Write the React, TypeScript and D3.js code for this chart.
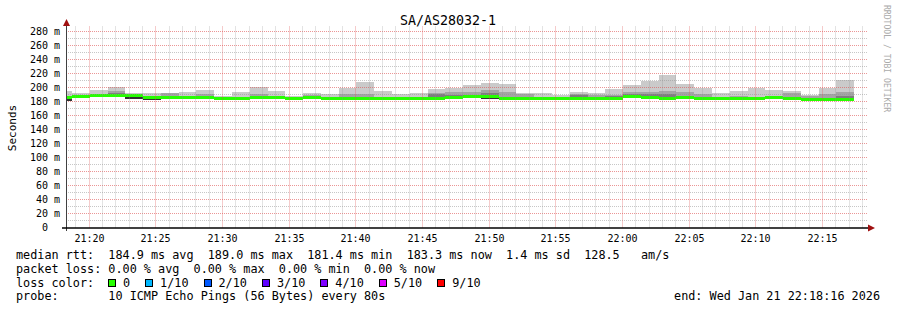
import React from 'react';
import * as d3 from 'd3';

// ---------- data ----------
const title = 'SA/AS28032-1';
const yAxisTitle = 'Seconds';
const startTime = new Date(2026, 0, 21, 21, 18, 16);
const endTime = new Date(2026, 0, 21, 22, 18, 16);
const firstColumnStart = new Date(2026, 0, 21, 21, 17, 23);
const stepSeconds = 80;
const yMax = 287.9;
const yTickStep = 20;
const yMinorStep = 10;
const yTickTop = 280;

// median rtt per 80 s column (ms)
const medianRtt = [
  185.7, 187.1, 188.3, 189.3, 187.9, 185.7, 185.3, 186.1, 186.1, 184.6,
  184.6, 186.1, 186.1, 184.6, 186.1, 185.0, 184.0, 185.0, 185.0, 184.0,
  184.0, 184.6, 186.1, 187.4, 186.9, 184.6, 184.0, 184.0, 184.0, 184.0,
  184.0, 184.0, 186.9, 186.1, 184.0, 185.4, 184.0, 184.0, 184.0, 184.0,
  186.4, 184.0, 182.4, 182.6, 183.1,
];
// highest ping (10th of 10)
const pingTop = [
  195.0, 192.1, 196.4, 201.1, 191.7, 191.7, 192.6, 193.6, 196.4, 187.9,
  193.6, 201.1, 195.0, 187.5, 192.6, 190.7, 199.3, 207.9, 195.0, 190.7,
  192.1, 198.0, 200.0, 203.6, 206.4, 205.0, 192.1, 192.1, 189.7, 193.6,
  192.1, 198.0, 203.6, 209.3, 217.9, 205.0, 200.0, 192.1, 195.0, 199.3,
  196.4, 195.0, 189.7, 199.3, 210.7,
];
// 9th ping
const pingHigh = [
  185.7, 187.1, 188.3, 195.0, 187.9, 185.7, 191.7, 186.1, 190.7, 184.6,
  184.6, 190.7, 186.1, 184.6, 189.7, 185.0, 190.7, 190.7, 185.0, 184.0,
  184.0, 191.5, 193.6, 193.6, 196.4, 193.6, 190.7, 184.0, 184.0, 190.7,
  189.3, 189.3, 193.6, 193.6, 195.0, 193.6, 190.7, 184.0, 187.9, 184.0,
  186.4, 191.7, 187.9, 190.7, 193.6,
];
// 8th ping
const pingMid = [
  185.7, 187.1, 188.3, 191.7, 187.9, 185.7, 185.3, 186.1, 186.1, 184.6,
  184.6, 186.1, 186.1, 184.6, 186.1, 185.0, 184.0, 185.0, 185.0, 184.0,
  184.0, 190.5, 189.0, 187.4, 192.0, 184.6, 184.0, 184.0, 184.0, 189.5,
  184.0, 188.0, 190.7, 190.7, 190.7, 185.4, 184.0, 184.0, 184.0, 184.0,
  186.4, 184.0, 182.4, 182.6, 188.0,
];
// lowest pings
const pingLow = [
  180.7, 187.1, 188.3, 186.4, 183.6, 182.1, 185.3, 186.1, 186.1, 184.6,
  184.6, 186.1, 183.6, 184.6, 186.1, 185.0, 184.0, 185.0, 185.0, 184.0,
  184.0, 184.6, 186.1, 187.4, 183.6, 184.6, 184.0, 184.0, 184.0, 184.0,
  184.0, 184.0, 186.9, 186.1, 184.0, 185.4, 184.0, 184.0, 184.0, 184.0,
  186.4, 184.0, 182.4, 182.6, 183.1,
];

const statsLines = [
  'median rtt:  184.9 ms avg  189.0 ms max  181.4 ms min  183.3 ms now  1.4 ms sd  128.5   am/s',
  'packet loss: 0.00 % avg  0.00 % max  0.00 % min  0.00 % now',
];
const lossLabels = ['0', '1/10', '2/10', '3/10', '4/10', '5/10', '9/10'];
const lossColors = ['#26ff00', '#00b8ff', '#0059ff', '#5e00ff', '#7e00ff', '#dd00ff', '#ff0000'];
const probeLine = 'probe:       10 ICMP Echo Pings (56 Bytes) every 80s';
const endLine = 'end: Wed Jan 21 22:18:16 2026';
const watermark = 'RRDTOOL / TOBI OETIKER';

// ---------- layout ----------
const W = 897;
const H = 310;
const plotLeft = 66;
const plotRight = 866;
const plotBottom = 227.5;
const plotTop = 26;
const FONT = '"DejaVu Sans Mono", monospace';
const LEGEND_FS = 11.8;
const CH = LEGEND_FS * 0.602; // legend char width
const pre = (s: string) => s.replace(/ /g, '\u00a0');

export default function App() {
  const x = d3.scaleTime().domain([startTime, endTime]).range([plotLeft, plotRight]);
  const y = d3.scaleLinear().domain([0, yMax]).range([plotBottom, plotTop]);

  const cols = medianRtt.map((m, i) => {
    const t0 = new Date(firstColumnStart.getTime() + i * stepSeconds * 1000);
    const t1 = new Date(t0.getTime() + stepSeconds * 1000);
    const x0 = Math.round(Math.max(plotLeft, x(t0)));
    const x1 = Math.round(Math.min(plotRight, x(t1)));
    return { x0, x1, m, top: pingTop[i], hi: pingHigh[i], mid: pingMid[i], lo: pingLow[i] };
  });

  const layer = (lo: number, hi: number) => {
    const a = Math.round(y(hi));
    const b = Math.round(y(lo));
    return { yy: Math.min(a, b), h: Math.abs(b - a) };
  };

  const minutes = d3.timeMinute.range(startTime, endTime);
  const hLines = d3.range(yMinorStep, yTickTop + 1, yMinorStep);
  const yTicks = d3.range(0, yTickTop + 1, yTickStep);
  const fmt = d3.timeFormat('%H:%M');

  // loss legend layout
  let lx = 108;
  const lossItems = lossLabels.map((lab, i) => {
    const item = { bx: lx, tx: lx + 15, lab, color: lossColors[i] };
    lx = lx + 15 + lab.length * CH + 15;
    return item;
  });

  return (
    <svg width={W} height={H} style={{ display: 'block', position: 'absolute', left: 0, top: 0, background: '#fff' }}
      fontFamily={FONT}>
      <rect x={0} y={0} width={W} height={H} fill="#ffffff" />
      {/* smoke */}
      <g shapeRendering="crispEdges">
        {cols.map((c, i) => {
          const l1 = layer(c.lo, c.top);
          const l2 = layer(c.lo, c.hi);
          const l3 = layer(c.lo, c.mid);
          const l5 = layer(c.lo, c.m);
          const ym = y(c.m);
          return (
            <g key={i}>
              <rect x={c.x0} y={l1.yy} width={c.x1 - c.x0} height={l1.h} fill="#cacaca" />
              <rect x={c.x0} y={l2.yy} width={c.x1 - c.x0} height={l2.h} fill="#a4a4a4" />
              <rect x={c.x0} y={l3.yy} width={c.x1 - c.x0} height={l3.h} fill="#7e7e7e" />
              <rect x={c.x0} y={l5.yy} width={c.x1 - c.x0} height={l5.h} fill="#323232" />
              <rect x={c.x0} y={Math.round(ym - 1.5)} width={c.x1 - c.x0} height={3} fill="#26ff00" />
            </g>
          );
        })}
      </g>
      {/* grid */}
      <g strokeDasharray="1,1" strokeWidth={1}>
        {hLines.map((v) => {
          const yy = Math.floor(y(v)) + 0.5;
          const major = v % yTickStep === 0;
          return (
            <line key={'h' + v} x1={plotLeft} x2={plotRight + 2} y1={yy} y2={yy}
              stroke={major ? 'rgba(222,80,80,0.6)' : 'rgba(143,143,143,0.5)'} />
          );
        })}
        {minutes.map((t) => {
          const xx = Math.floor(x(t)) + 0.5;
          if (xx <= plotLeft + 1) return null;
          const major = t.getMinutes() % 5 === 0;
          return (
            <line key={'v' + t.getTime()} x1={xx} x2={xx} y1={plotBottom} y2={plotTop}
              stroke={major ? 'rgba(222,80,80,0.6)' : 'rgba(143,143,143,0.5)'} />
          );
        })}
      </g>
      {/* axes */}
      <line x1={66.5} x2={66.5} y1={231} y2={24} stroke="#404040" strokeWidth={1} />
      <line x1={62} x2={869} y1={228} y2={228} stroke="#000" strokeWidth={1.6} />
      <path d="M63,26 L66.5,19 L70,26 Z" fill="#a01010" />
      <path d="M868,224.5 L875,228 L868,231.5 Z" fill="#a01010" />
      {/* y tick labels */}
      <g fontSize={10} fill="#000" textAnchor="end">
        {yTicks.map((v) => (
          <text key={'yl' + v} x={60} y={Math.floor(y(v)) + 4}>
            {v === 0 ? '0\u00a0\u00a0' : pre(`${v} m`)}
          </text>
        ))}
      </g>
      {/* x tick labels */}
      <g fontSize={10} fill="#000" textAnchor="middle">
        {minutes.filter((t) => t.getMinutes() % 5 === 0).map((t) => (
          <text key={'xl' + t.getTime()} x={Math.floor(x(t)) + 0.5} y={242}>{fmt(t)}</text>
        ))}
      </g>
      {/* titles */}
      <text x={448} y={24.5} fontSize={13.3} textAnchor="middle" fill="#000">{title}</text>
      <text transform="translate(15.5,128) rotate(-90)" fontSize={11} textAnchor="middle" fill="#000">{yAxisTitle}</text>
      <text transform="translate(884,5) rotate(90)" fontSize={8.1} fill="#aaaaaa">{pre(watermark)}</text>
      {/* legend */}
      <g fontSize={LEGEND_FS} fill="#000">
        <text x={16} y={259}>{pre(statsLines[0])}</text>
        <text x={16} y={272.5}>{pre(statsLines[1])}</text>
        <text x={16} y={286.5}>{pre('loss color:')}</text>
        {lossItems.map((it) => (
          <g key={it.lab}>
            <rect x={Math.round(it.bx) + 0.5} y={279.5} width={7} height={7} fill={it.color} stroke="#000" strokeWidth={1} />
            <text x={it.tx} y={286.5}>{it.lab}</text>
          </g>
        ))}
        <text x={16} y={300}>{pre(probeLine)}</text>
        <text x={880} y={300} textAnchor="end">{pre(endLine)}</text>
      </g>
    </svg>
  );
}
